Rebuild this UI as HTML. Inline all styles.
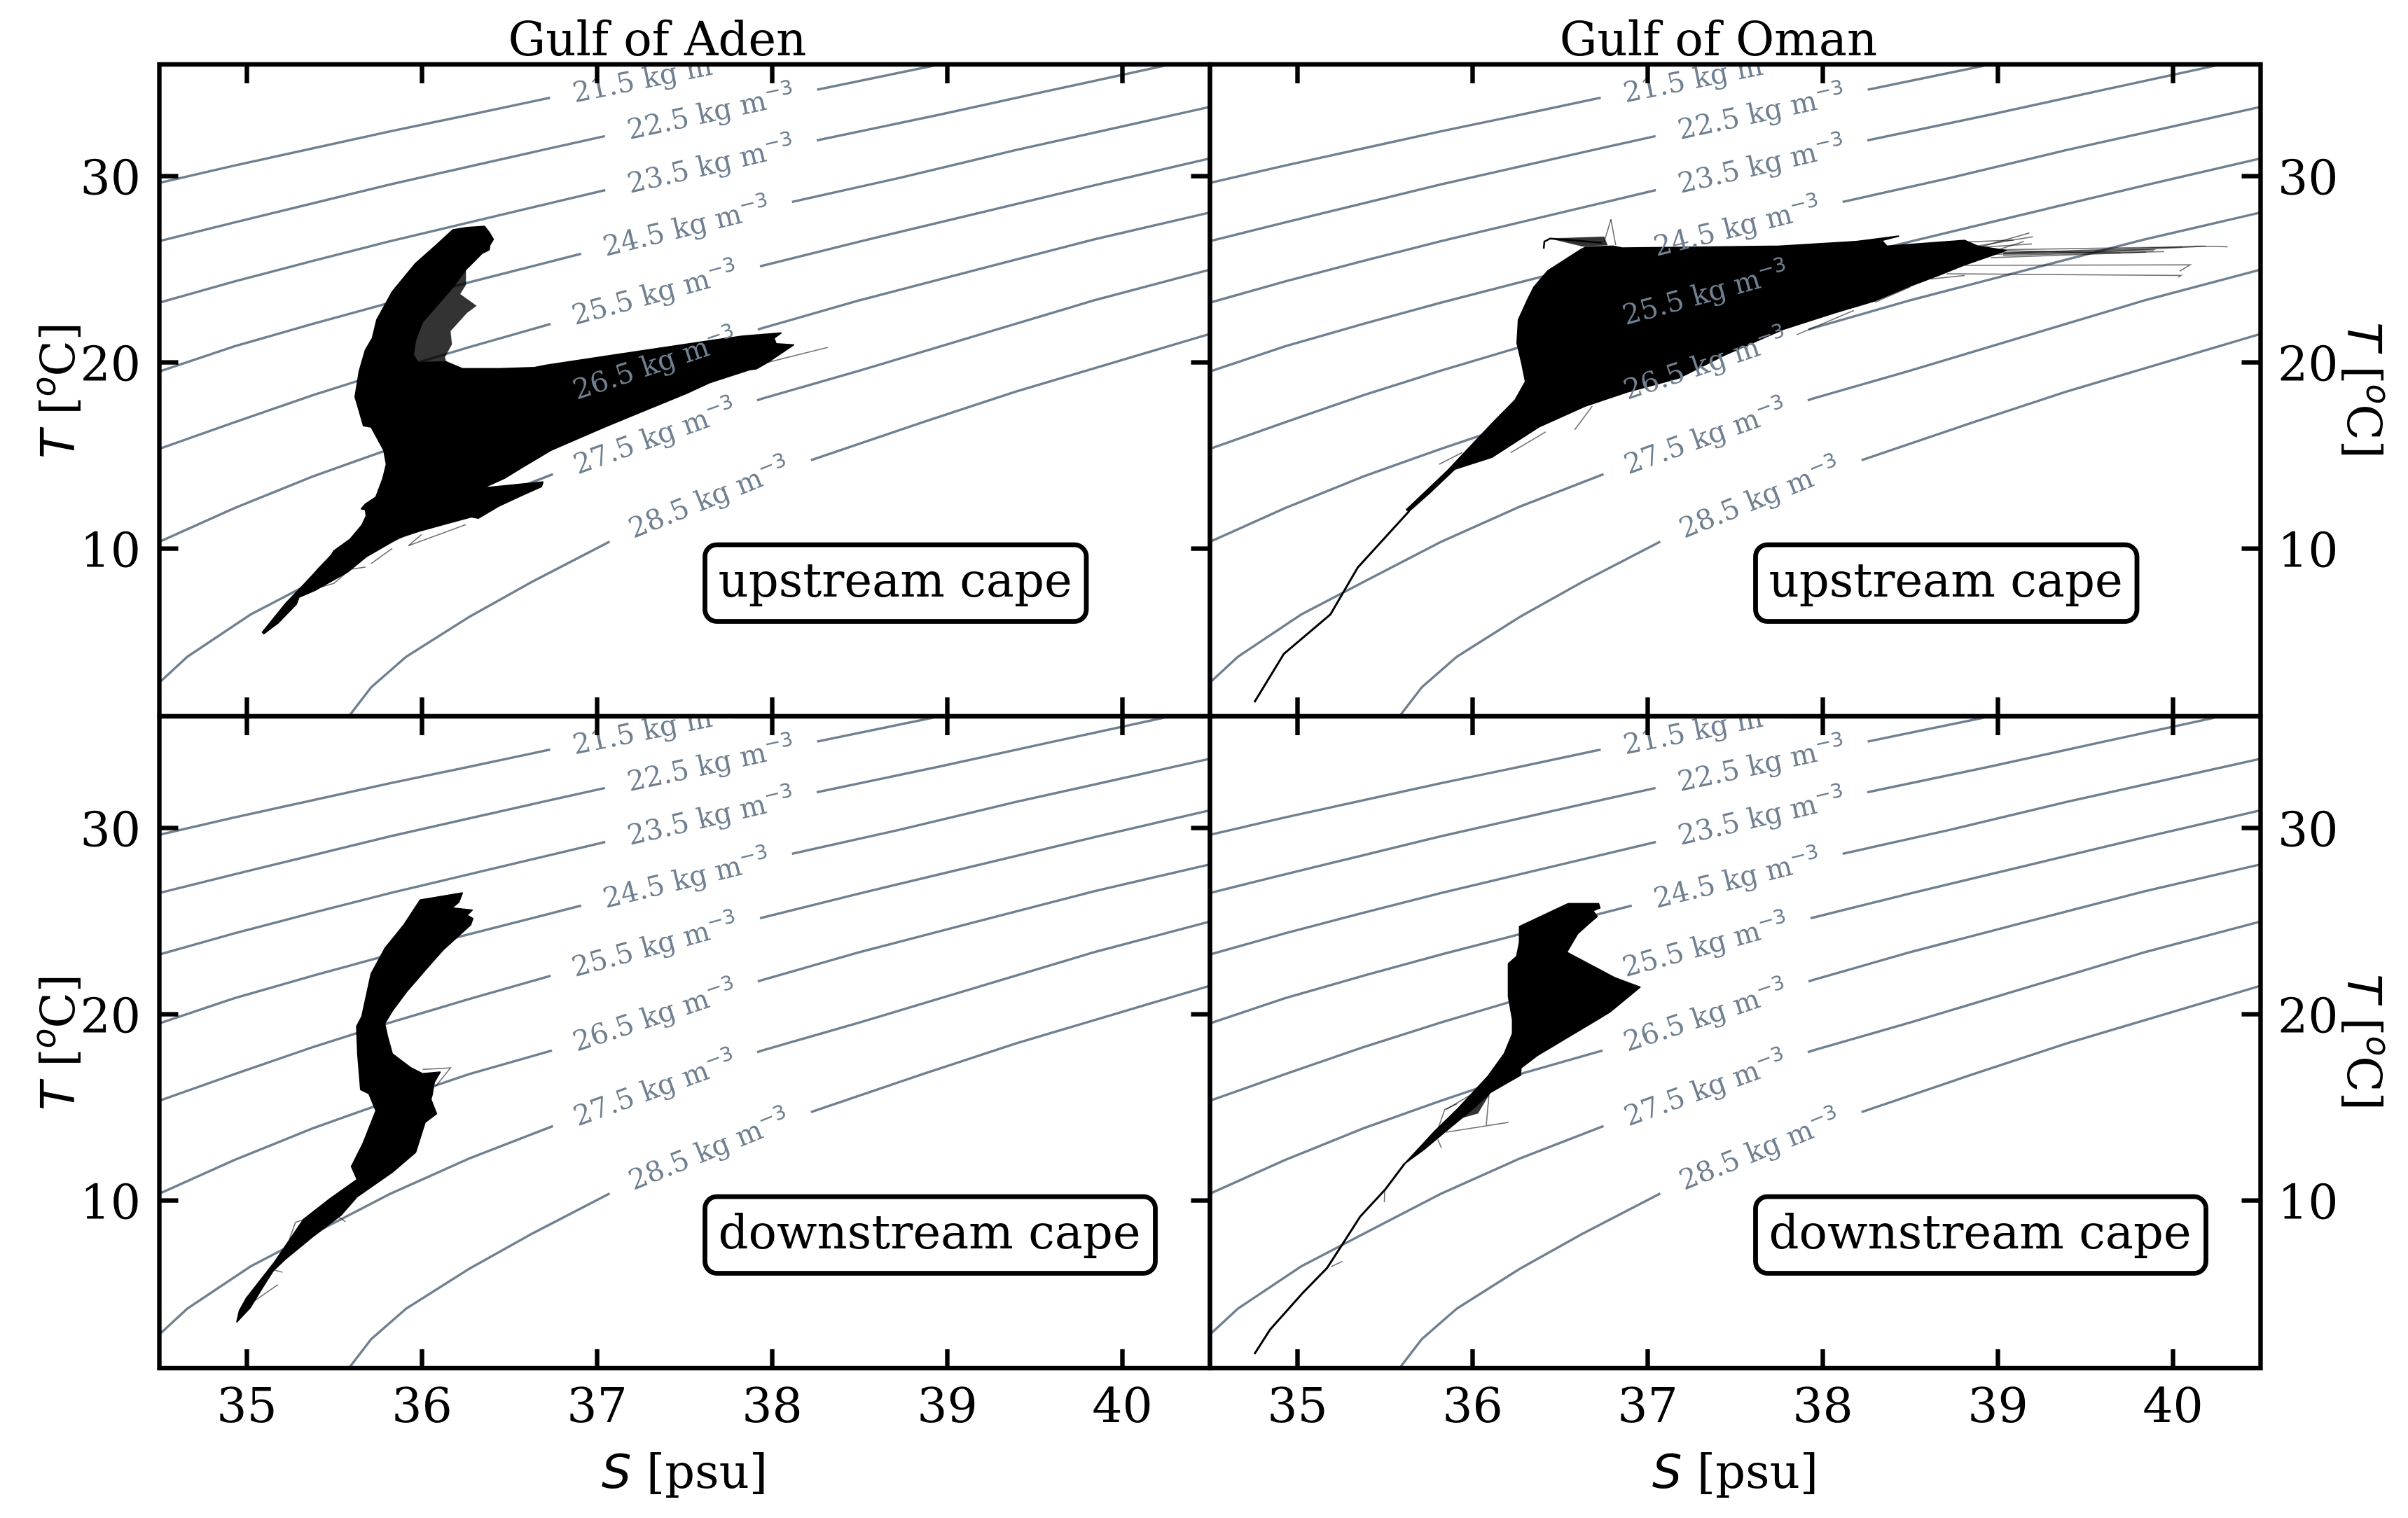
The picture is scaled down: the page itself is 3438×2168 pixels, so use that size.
<!DOCTYPE html>
<html lang="en">
<head>
<meta charset="utf-8">
<title>T-S diagrams, Gulf of Aden and Gulf of Oman</title>
<style>
html,body{margin:0;padding:0;background:#fff;}
svg{display:block;}
text{font-family:"DejaVu Serif","Liberation Serif",serif;fill:#000;}
.math{font-family:"DejaVu Sans","Liberation Sans",sans-serif;font-style:oblique;}
</style>
</head>
<body>
<svg id="chart" xmlns="http://www.w3.org/2000/svg" width="3438" height="2168" viewBox="0 0 3438 2168">
<rect x="0" y="0" width="3438" height="2168" fill="#fff"/>
</svg>
<script>
// ---- axis ticks and labels ----
const sTickValues = [35, 36, 37, 38, 39, 40];
const tTickValues = [10, 20, 30];
const sigmaLevels = [21.5, 22.5, 23.5, 24.5, 25.5, 26.5, 27.5, 28.5];
const sigmaLabelS = [37.34, 37.65, 37.65, 37.51, 37.33, 37.33, 37.33, 37.64];
const columnTitles = ['Gulf of Aden', 'Gulf of Oman'];
const rowLabels = ['upstream cape', 'downstream cape'];

// ---- isopycnal contours (salinity, temperature) ----
const contour215S = [34.5, 34.93, 35.38, 35.82, 36.27, 36.71, 37.23, 37.67];
const contour215T = [29.64, 30.57, 31.5, 32.41, 33.29, 34.17, 35.13, 35.98];
const contour225S = [34.5, 34.93, 35.38, 35.82, 36.27, 36.71, 37.05, 37.61, 38.27, 38.92];
const contour225T = [26.51, 27.52, 28.55, 29.56, 30.52, 31.45, 32.16, 33.34, 34.67, 35.93];
const contour235S = [34.5, 34.93, 35.38, 35.82, 36.27, 36.71, 37.05, 37.61, 38.27, 38.95, 39.62, 40.24];
const contour235T = [23.21, 24.35, 25.46, 26.51, 27.52, 28.5, 29.26, 30.52, 31.95, 33.29, 34.67, 35.93];
const contour245S = [34.5, 34.93, 35.38, 35.82, 36.27, 36.92, 37.52, 38.12, 38.72, 39.39, 39.97, 40.5];
const contour245T = [19.51, 20.87, 22.08, 23.21, 24.3, 25.86, 27.29, 28.63, 29.89, 31.4, 32.61, 33.72];
const contour255S = [34.5, 34.93, 35.38, 35.82, 36.27, 36.74, 37.34, 37.94, 38.5, 39.17, 39.84, 40.5];
const contour255T = [15.36, 16.79, 18.25, 19.56, 20.82, 22.08, 23.72, 25.18, 26.49, 28.0, 29.51, 30.95];
const contour265S = [34.5, 34.93, 35.38, 35.82, 36.27, 36.74, 37.34, 37.94, 38.5, 39.17, 39.84, 40.5];
const contour265T = [10.37, 12.18, 13.89, 15.36, 16.79, 18.05, 19.94, 21.83, 23.34, 24.98, 26.61, 28.05];
const contour275S = [34.5, 34.66, 35.02, 35.38, 35.82, 36.27, 36.74, 37.34, 37.94, 38.5, 39.17, 39.84, 40.5];
const contour275T = [2.81, 4.2, 6.46, 8.23, 10.37, 12.26, 13.97, 16.04, 18.05, 19.56, 21.45, 23.34, 24.98];
const contour285S = [35.58, 35.71, 35.91, 36.27, 36.63, 37.07, 37.65, 38.23, 38.86, 39.39, 39.93, 40.5];
const contour285T = [0.97, 2.56, 4.2, 6.34, 8.23, 10.37, 12.76, 14.78, 16.79, 18.43, 19.94, 21.53];

// ---- Gulf of Aden, upstream cape: T-S envelope ----
const adenUpS = [36.177,36.257,36.357,36.383,36.407,36.387,36.383,36.343,36.297,36.25,36.177,36.097,36.002,35.962,35.95,35.977,36.137,36.23,36.442,36.642,36.71,37.242,37.642,37.83,38.05,38.01,38.022,38.122,37.978,37.91,37.87,37.642,37.51,37.042,36.737,36.577,36.47,36.217,36.362,36.69,36.682,36.577,36.437,36.322,36.282,35.99,35.87,35.682,35.577,35.39,35.297,35.282,35.177,35.097,35.089,35.222,35.337,35.482,35.497,35.59,35.657,35.682,35.677,35.654,35.677,35.737,35.777,35.797,35.782,35.71,35.666,35.63,35.618,35.642,35.677,35.717,35.742,35.83,35.962,36.082];
const adenUpT = [27.12,27.24,27.30,26.99,26.61,26.30,26.05,25.86,25.42,24.98,24.05,23.18,22.17,21.16,20.41,19.99,20.03,19.66,19.66,19.72,19.85,20.60,21.16,21.41,21.58,21.30,21.0,20.94,20.03,19.66,19.61,18.91,18.34,16.53,15.29,14.39,13.78,12.70,13.27,13.58,13.33,12.89,12.28,11.64,11.71,10.96,10.59,9.57,8.76,7.77,7.39,7.02,6.0,5.44,5.51,7.06,8.19,9.65,9.88,10.51,11.26,11.76,12.09,12.14,12.39,12.77,13.78,14.53,15.29,16.53,16.60,17.78,18.15,19.53,20.66,21.30,22.29,23.79,25.30,26.30];
const adenUpMeshS = [36.25,36.25,36.217,36.31,36.257,36.162,36.17,36.13,36.137,35.977,35.95,35.962,36.002,36.097,36.177];
const adenUpMeshT = [24.98,24.17,23.67,23.04,22.67,21.68,20.97,20.29,20.03,19.99,20.41,21.16,22.17,23.18,24.05];
const adenUpStrayS = [[37.922,38.317],[35.923,36.25],[35.923,35.997],[35.71,35.83],[35.482,35.402,35.362],[35.677,35.59,35.497,35.362]];
const adenUpStrayT = [[19.88,20.81],[10.16,11.29],[10.16,10.76],[9.2,10.01],[9.65,8.89,8.37],[9.01,8.89,8.14,7.77]];

// ---- Gulf of Oman, upstream cape: T-S envelope ----
const omanUpS = [36.643,36.802,36.857,37.75,38.19,38.432,38.336,38.366,38.721,38.81,38.884,39.046,38.942,38.81,38.662,38.484,38.292,38.07,37.777,37.442,37.177,36.882,36.642,36.377,36.11,35.898,35.75,35.638,35.622,35.854,36.11,36.242,36.302,36.282,36.254,36.262,36.31,36.35,36.43,36.617];
const omanUpT = [26.18,26.24,26.14,26.24,26.49,26.78,26.55,26.24,26.49,26.55,26.24,26.01,25.67,25.24,24.68,24.05,23.29,22.67,21.79,20.41,19.16,18.41,17.65,16.53,14.91,14.27,12.95,12.02,12.09,14.16,16.71,17.97,18.97,19.91,21.04,22.29,23.29,24.04,24.92,26.05];
const omanUpMeshS = [36.443,36.75,36.77,36.63];
const omanUpMeshT = [26.65,26.75,26.30,26.23];
const omanUpTailS = [35.638,35.344,35.188,34.922,34.754];
const omanUpTailT = [12.02,8.99,6.47,4.35,1.76];
const omanUpHookS = [36.406,36.41,36.443,36.737];
const omanUpHookT = [26.11,26.49,26.65,26.43];
const omanUpStrayS = [[36.79,36.75],[36.79,36.817],[38.898,39.18],[39.032,40.142,40.312],[38.958,39.55,40.186],[38.958,39.846],[38.81,40.098,40.038],[38.706,40.046,40.03],[38.618,38.81],[38.298,38.498],[38.898,39.194],[36.583,36.683],[36.217,36.417],[37.85,38.177],[35.809,35.942],[39.03,39.89],[39.03,39.7],[39.03,39.95],[39.0,39.9],[39.0,40.05],[38.73,39.09],[38.85,39.2],[39.0,39.15]];
const omanUpStrayT = [[27.68,26.43],[27.68,26.30],[26.19,26.95],[25.86,26.24,26.21],[25.8,25.92,26.24],[25.62,25.92],[25.21,25.24,24.9],[24.76,24.67,24.57],[24.48,24.67],[23.23,24.05],[26.18,26.36],[16.38,17.65],[15.15,16.27],[21.48,22.79],[14.53,15.17],[25.85,26.0],[26.0,25.88],[25.75,25.95],[25.9,26.08],[26.05,26.2],[26.43,26.57],[26.2,26.75],[26.05,26.5]];

// ---- Gulf of Aden, downstream cape: T-S envelope ----
const adenDownS = [35.99,36.23,36.21,36.17,36.286,36.257,36.29,36.277,36.203,36.123,36.043,35.91,35.83,35.787,35.803,35.83,35.937,36.003,36.103,36.07,36.057,36.05,36.083,36.017,35.963,35.83,35.63,35.537,35.377,35.217,35.15,35.097,35.017,34.943,34.957,34.997,35.157,35.23,35.323,35.47,35.63,35.597,35.663,35.737,35.697,35.65,35.633,35.627,35.657,35.71,35.79,35.897];
const adenDownT = [26.14,26.51,26.02,25.71,25.59,25.32,25.14,24.8,24.17,23.48,22.64,21.19,20.18,19.5,18.8,17.88,17.12,16.81,16.89,16.35,15.66,15.44,14.66,14.2,12.59,11.52,10.21,9.21,8.07,6.83,6.23,5.45,4.23,3.49,4.08,4.76,6.68,7.69,8.98,10.06,11.13,11.83,13.05,14.82,15.74,15.96,17.88,19.35,19.88,22.18,23.56,24.8];
const adenDownStrayS = [[36.003,36.163,36.077],[35.323,35.277,35.243],[35.563,35.51],[35.177,35.043],[35.203,35.143]];
const adenDownStrayT = [[17.04,17.12,16.12],[8.98,8.83,7.92],[8.86,9.21],[5.48,4.61],[6.15,6.30]];

// ---- Gulf of Oman, downstream cape: T-S envelope ----
const omanDownS = [36.268,36.371,36.545,36.719,36.727,36.687,36.711,36.663,36.6,36.537,36.814,36.956,36.782,36.371,36.276,36.273,36.102,36.007,35.849,35.722,35.643,35.612,35.786,35.912,36.086,36.181,36.228,36.228,36.205,36.205,36.252,36.268];
const omanDownT = [24.71,25.17,25.94,25.94,25.71,25.56,25.25,24.86,24.33,23.33,21.95,21.46,20.11,17.8,17.12,16.73,15.81,14.97,13.74,12.74,12.2,11.98,13.74,14.89,16.65,17.88,18.96,19.72,20.95,22.72,23.11,23.87];
const omanDownMeshS = [35.89,36.006,36.102,36.03];
const omanDownMeshT = [14.31,15.77,15.81,14.68];
const omanDownTailS = [35.612,35.501,35.358,35.264,35.169,35.026,34.844,34.754];
const omanDownTailT = [11.98,10.59,9.14,7.76,6.38,5.0,3.08,1.76];
const omanDownStrayS = [[35.849,36.007],[35.801,35.841,35.912],[35.849,36.205],[36.078,36.094],[35.801,35.822],[35.498,35.496],[35.192,35.256]];
const omanDownStrayT = [[14.89,15.77],[13.82,14.89,15.2],[13.67,14.2],[14.05,15.74],[13.28,12.82],[10.59,9.91],[6.45,6.73]];

const contourSeriesS = [contour215S, contour225S, contour235S, contour245S, contour255S, contour265S, contour275S, contour285S];
const contourSeriesT = [contour215T, contour225T, contour235T, contour245T, contour255T, contour265T, contour275T, contour285T];

// ---- layout ----
const SVGNS = 'http://www.w3.org/2000/svg';
const chart = document.getElementById('chart');
const S_MIN = 34.5, S_MAX = 40.5, T_MIN = 1, T_MAX = 36;
const PANEL_W = 1500, PANEL_H = 931;
const INK = '#000', SLATE = '#708090';
const FRAME_W = 6.4, LABEL_PX = 67.2, TICK_PX = 68;

function make(tag, attrs, parent, text) {
  const n = document.createElementNS(SVGNS, tag);
  for (const k in attrs) n.setAttribute(k, attrs[k]);
  if (text !== undefined) n.textContent = text;
  parent.appendChild(n);
  return n;
}
function xAxis(panel, s) { return panel.x0 + (s - S_MIN) / (S_MAX - S_MIN) * PANEL_W; }
function yAxis(panel, t) { return panel.y0 + (T_MAX - t) / (T_MAX - T_MIN) * PANEL_H; }
function pointList(panel, sArr, tArr) {
  return sArr.map(function (s, i) { return xAxis(panel, s).toFixed(1) + ',' + yAxis(panel, tArr[i]).toFixed(1); }).join(' ');
}
function tAtS(sArr, tArr, s) {
  for (let i = 1; i < sArr.length; i++) {
    if (s <= sArr[i]) {
      const f = (s - sArr[i - 1]) / (sArr[i] - sArr[i - 1]);
      return tArr[i - 1] + f * (tArr[i] - tArr[i - 1]);
    }
  }
  return tArr[tArr.length - 1];
}

const panels = [
  {key:'aden-upstream', x0:227.5, y0:92, col:0, row:0, titleX:938.5, env:[adenUpS,adenUpT], mesh:[adenUpMeshS,adenUpMeshT], tail:null, hook:null, stray:[adenUpStrayS,adenUpStrayT]},
  {key:'oman-upstream', x0:1727.5, y0:92, col:1, row:0, titleX:2453.5, env:[omanUpS,omanUpT], mesh:[omanUpMeshS,omanUpMeshT], tail:[omanUpTailS,omanUpTailT], hook:[omanUpHookS,omanUpHookT], stray:[omanUpStrayS,omanUpStrayT]},
  {key:'aden-downstream', x0:227.5, y0:1023, col:0, row:1, titleX:0, env:[adenDownS,adenDownT], mesh:null, tail:null, hook:null, stray:[adenDownStrayS,adenDownStrayT]},
  {key:'oman-downstream', x0:1727.5, y0:1023, col:1, row:1, titleX:0, env:[omanDownS,omanDownT], mesh:[omanDownMeshS,omanDownMeshT], tail:[omanDownTailS,omanDownTailT], hook:null, stray:[omanDownStrayS,omanDownStrayT]}
];

const defs = make('defs', {}, chart);

panels.forEach(function (p) {
  const clip = make('clipPath', {id: 'clip-' + p.key}, defs);
  make('rect', {x: p.x0, y: p.y0, width: PANEL_W, height: PANEL_H}, clip);

  const panel = make('g', {'clip-path': 'url(#clip-' + p.key + ')'}, chart);
  
  

  // isopycnal lines
  contourSeriesS.forEach(function (sArr, i) {
    const line = make('polyline', {points: pointList(p, sArr, contourSeriesT[i]), fill: 'none', stroke: SLATE, 'stroke-width': 3.4, 'stroke-linejoin': 'round'}, panel);
    
    
  });

  // label placement shared by the gap and the text
  const placed = sigmaLevels.map(function (lv, i) {
    const sArr = contourSeriesS[i], tArr = contourSeriesT[i], s = sigmaLabelS[i];
    const sA = Math.max(sArr[0], s - 0.3), sB = Math.min(sArr[sArr.length - 1], s + 0.3);
    const dx = xAxis(p, sB) - xAxis(p, sA);
    const dy = yAxis(p, tAtS(sArr, tArr, sB)) - yAxis(p, tAtS(sArr, tArr, sA));
    return {cx: xAxis(p, s), cy: yAxis(p, tAtS(sArr, tArr, s)), angle: Math.atan2(dy, dx) * 180 / Math.PI, level: lv};
  });

  // gaps cut into the lines
  placed.forEach(function (q) {
    const gap = make('rect', {x: -155, y: -8, width: 310, height: 16, fill: '#fff', transform: 'translate(' + q.cx.toFixed(1) + ',' + q.cy.toFixed(1) + ') rotate(' + q.angle.toFixed(2) + ')'}, panel);
    
    
  });

  // profile envelope
  if (p.mesh) {
    const mesh = make('polygon', {points: pointList(p, p.mesh[0], p.mesh[1]), fill: INK, 'fill-opacity': 0.8, stroke: INK, 'stroke-opacity': 0.4, 'stroke-width': 1}, panel);
    
    
  }
  const env = make('polygon', {points: pointList(p, p.env[0], p.env[1]), fill: INK, stroke: INK, 'stroke-width': 2, 'stroke-linejoin': 'round'}, panel);
  
  
  if (p.tail) {
    const tail = make('polyline', {points: pointList(p, p.tail[0], p.tail[1]), fill: 'none', stroke: INK, 'stroke-width': 3, 'stroke-linejoin': 'round'}, panel);
    
    
  }
  if (p.hook) {
    const hook = make('polyline', {points: pointList(p, p.hook[0], p.hook[1]), fill: 'none', stroke: INK, 'stroke-width': 2.5}, panel);
    
    
  }
  p.stray[0].forEach(function (sArr, i) {
    const stray = make('polyline', {points: pointList(p, sArr, p.stray[1][i]), fill: 'none', stroke: INK, 'stroke-opacity': 0.55, 'stroke-width': 1.6}, panel);
    
    
  });

  // isopycnal labels over everything in the plot area
  placed.forEach(function (q) {
    const label = make('text', {transform: 'translate(' + q.cx.toFixed(1) + ',' + q.cy.toFixed(1) + ') rotate(' + q.angle.toFixed(2) + ')', y: 13, 'text-anchor': 'middle', 'font-size': 40, style: 'fill:' + SLATE}, panel, q.level.toFixed(1) + ' kg m');
    
    
    make('tspan', {dy: -15, 'font-size': 28, style: 'font-family:\'DejaVu Sans\',sans-serif;fill:' + SLATE}, label, '\u22123');
  });

  // spines
  const spine = make('rect', {x: p.x0, y: p.y0, width: PANEL_W, height: PANEL_H, fill: 'none', stroke: INK, 'stroke-width': FRAME_W}, chart);
  
  

  // x ticks on both edges of every panel
  sTickValues.forEach(function (s) {
    const x = xAxis(p, s);
    const top = make('line', {x1: x, x2: x, y1: p.y0, y2: p.y0 + 27, stroke: INK, 'stroke-width': FRAME_W}, chart);
    
    
    const bottom = make('line', {x1: x, x2: x, y1: p.y0 + PANEL_H, y2: p.y0 + PANEL_H - 27, stroke: INK, 'stroke-width': FRAME_W}, chart);
    
    
    if (p.row === 1) {
      const lab = make('text', {x: x, y: 2031, 'text-anchor': 'middle', 'font-size': TICK_PX}, chart, String(s));
      
      
    }
  });

  // y ticks
  tTickValues.forEach(function (t) {
    const y = yAxis(p, t);
    if (p.col === 0) {
      const left = make('line', {x1: p.x0, x2: p.x0 + 27, y1: y, y2: y, stroke: INK, 'stroke-width': FRAME_W}, chart);
      
      
    }
    const right = make('line', {x1: p.x0 + PANEL_W, x2: p.x0 + PANEL_W - 27, y1: y, y2: y, stroke: INK, 'stroke-width': FRAME_W}, chart);
    
    
    const lab = make('text', {x: p.col === 0 ? 201 : 3252, y: y + 26, 'text-anchor': p.col === 0 ? 'end' : 'start', 'font-size': TICK_PX}, chart, String(t));
    
    
  });

  // y axis title
  const cy = p.y0 + PANEL_H / 2;
  const yTitle = make('text', {transform: p.col === 0 ? 'translate(106,' + cy + ') rotate(-90)' : 'translate(3352,' + cy + ') rotate(90)', 'text-anchor': 'middle', 'font-size': LABEL_PX}, chart);
  
  
  make('tspan', {class: 'math'}, yTitle, 'T');
  make('tspan', {}, yTitle, ' [');
  make('tspan', {class: 'math', 'font-size': 47, dy: -27}, yTitle, 'o');
  make('tspan', {dy: 27}, yTitle, 'C]');

  // x axis title
  if (p.row === 1) {
    const xTitle = make('text', {x: p.x0 + PANEL_W / 2, y: 2125, 'text-anchor': 'middle', 'font-size': LABEL_PX}, chart);
    
    
    make('tspan', {class: 'math'}, xTitle, 'S');
    make('tspan', {}, xTitle, ' [psu]');
  } else {
    const title = make('text', {x: p.titleX, y: 79, 'text-anchor': 'middle', 'font-size': LABEL_PX}, chart, columnTitles[p.col]);
    
    
  }

  // annotation box
  const box = make('rect', {x: p.x0 + 779, y: p.y0 + 686, width: p.row === 0 ? 544.5 : 643, height: 109.5, rx: 17, ry: 17, fill: '#fff', stroke: INK, 'stroke-width': 6.8}, chart);
  
  
  const boxText = make('text', {x: p.x0 + 798, y: p.y0 + 760, 'font-size': LABEL_PX}, chart, rowLabels[p.row]);
  
  
});
</script>
</body>
</html>
